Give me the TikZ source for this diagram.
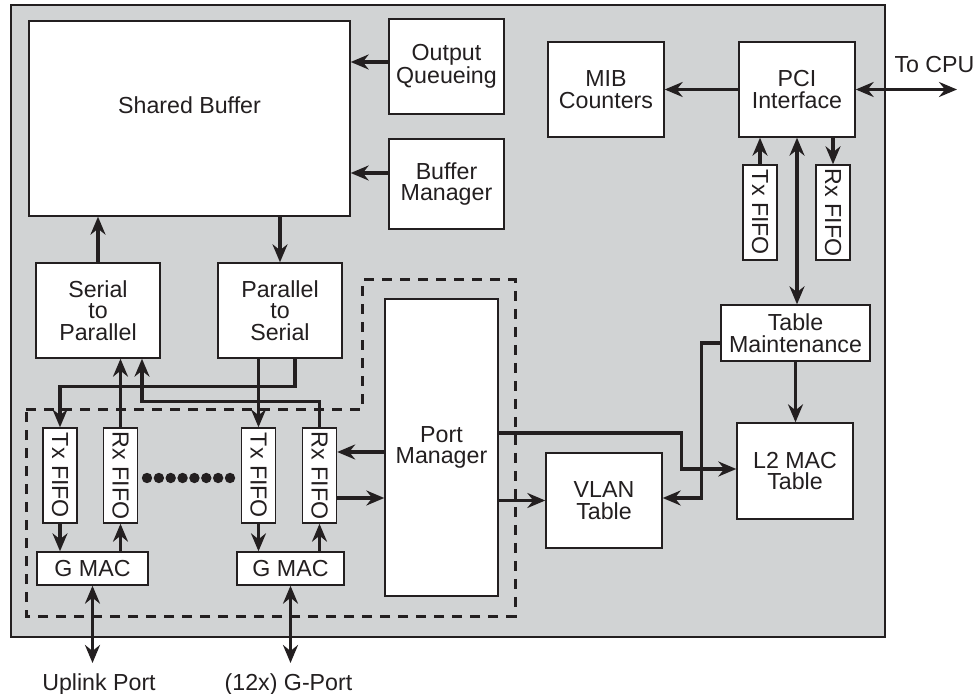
\documentclass[tikz,border=0pt]{standalone}
\usepackage{fontspec}
\setmainfont{Liberation Sans}
\usetikzlibrary{calc}
\usetikzlibrary{arrows.meta}
\definecolor{panel}{RGB}{209,211,212}
\definecolor{ink}{RGB}{35,31,32}

\begin{document}
\begin{tikzpicture}[
  x=0.5pt,
  y=-0.5pt,
  line join=miter,
  >={Stealth[length=9pt,width=7.5pt,inset=3pt]},
  blk/.style={draw=ink,fill=white,text=ink,line width=0.7pt,inner sep=0pt,
    align=center,font=\fontsize{11.6}{10.8}\selectfont},
  fifo/.style={blk,minimum width=17pt,minimum height=47.5pt},
  wire/.style={draw=ink,line width=1.7pt},
  lbl/.style={text=ink,inner sep=0pt,font=\fontsize{11.6}{10.8}\selectfont}
]
\useasboundingbox (0,0) rectangle (974,694);

% Chip outline and port group
\draw[draw=ink,fill=panel,line width=1pt] (11,5) rectangle (885,637);
\draw[ink,line width=1.5pt,dash pattern=on 5pt off 4pt]
  (26,410) -- (362,410) -- (362,280) -- (515,280) -- (515,616) -- (26,616) -- cycle;

% Buffer blocks
\node[blk,minimum width=160.5pt,minimum height=97.5pt] (sb) at (189.5,118.5) {};
\node[lbl] (sbtext) at (189.5,105) {Shared Buffer};
\node[blk,minimum width=57.5pt,minimum height=47.5pt] (oq) at (446.5,66.5) {Output\\Queueing};
\node[blk,minimum width=57.5pt,minimum height=45pt] (bm) at (446.5,184) {Buffer\\Manager};
\node[blk,minimum width=62pt,minimum height=47.5pt] (s2p) at (98,310.5) {Serial\\to\\Parallel};
\node[blk,minimum width=62pt,minimum height=47.5pt] (p2s) at (280,310.5) {Parallel\\to\\Serial};

% CPU side
\node[blk,minimum width=58pt,minimum height=47.5pt] (mib) at (606,89.5) {MIB\\Counters};
\node[blk,minimum width=58pt,minimum height=47.5pt] (pci) at (797,89.5) {PCI\\Interface};
\node[fifo] (ptx) at (760,212.5) {\rotatebox{-90}{Tx FIFO}};
\node[fifo] (prx) at (833,212.5) {\rotatebox{-90}{Rx FIFO}};
\node[blk,minimum width=74.5pt,minimum height=28pt] (tm) at (795.5,333) {Table\\Maintenance};
\node[blk,minimum width=58pt,minimum height=48pt] (l2) at (795,471) {L2 MAC\\Table};
\node[blk,minimum width=58pt,minimum height=47.5pt] (vlan) at (604,500.5) {VLAN\\Table};
\node[lbl] (cpu) at (934.5,64.5) {To CPU};
\coordinate (cpuend) at (957,89.5);

% Ports
\node[blk,minimum width=56.5pt,minimum height=148.5pt] (pm) at (441.5,447.5) {Port\\Manager};
\node[fifo] (tx1) at (60,475.5) {\rotatebox{-90}{Tx FIFO}};
\node[fifo] (rx1) at (120.5,475.5) {\rotatebox{-90}{Rx FIFO}};
\node[fifo] (tx2) at (258.5,475.5) {\rotatebox{-90}{Tx FIFO}};
\node[fifo] (rx2) at (319.5,475.5) {\rotatebox{-90}{Rx FIFO}};
\node[blk,minimum width=55.5pt,minimum height=16.5pt] (gm1) at (92.5,568.5) {G MAC};
\node[blk,minimum width=53.5pt,minimum height=16.5pt] (gm2) at (290.5,568.5) {G MAC};
\node[lbl] (uplink) at (99,684) {Uplink Port};
\node[lbl] (gport) at (288.5,684) {(12x) G-Port};
\coordinate (upend) at (92.5,663);
\coordinate (gpend) at (290.5,663);
\foreach \i in {0,...,7}
  \fill[ink] (147+\i*11.86,478) circle (2.6pt);

% Buffer paths
\draw[wire,->] ([yshift=2.25pt]oq.west) -- ([yshift=2.25pt]oq.west -| sb.east);
\draw[wire,->] ([yshift=5.5pt]bm.west) -- ([yshift=5.5pt]bm.west -| sb.east);
\draw[wire,->] (s2p.north) -- (s2p.north |- sb.south);
\draw[wire,->] (sb.south -| p2s.north) -- (p2s.north);

% Serial lines to the FIFOs
\draw[wire,->] (tx2.north |- p2s.south) -- (tx2.north);
\draw[wire,->] ([xshift=7.5pt]p2s.south) -- ++(0,28) -| (tx1.north);
\draw[wire,->] (rx1.north) -- (rx1.north |- s2p.south);
\draw[wire,->] (rx2.north) -- ++(0,-26) -| ([xshift=22pt]s2p.south);

% FIFOs and MACs
\draw[wire,->] (tx1.south) -- (tx1.south |- gm1.north);
\draw[wire,->] (gm1.north -| rx1.south) -- (rx1.south);
\draw[wire,->] (tx2.south) -- (tx2.south |- gm2.north);
\draw[wire,->] (gm2.north -| rx2.south) -- (rx2.south);
\draw[wire,<->] (gm1.south) -- (upend);
\draw[wire,<->] (gm2.south) -- (gpend);

% Port manager
\draw[wire,->] ([yshift=11.75pt]rx2.east -| pm.west) -- ([yshift=11.75pt]rx2.east);
\draw[wire,->] ([yshift=-11.25pt]rx2.east) -- ([yshift=-11.25pt]rx2.east -| pm.west);
\draw[wire,->] (vlan.west -| pm.east) -- (vlan.west);
\draw[wire,->] ([yshift=7.25pt]pm.east) -| ([xshift=-27.5pt,yshift=1pt]l2.west) -- ([yshift=1pt]l2.west);

% Tables and PCI
\draw[wire,->] ([yshift=-5pt]tm.west) -- ++(-19,0) |- ([yshift=1.25pt]vlan.east);
\draw[wire,->] (tm.south) -- (tm.south |- l2.north);
\draw[wire,<->] (pci.south) -- (pci.south |- tm.north);
\draw[wire,->] (ptx.north) -- (ptx.north |- pci.south);
\draw[wire,->] (prx.north |- pci.south) -- (prx.north);
\draw[wire,->] (pci.west) -- (pci.west -| mib.east);
\draw[wire,<->] (pci.east) -- (cpuend);

\end{tikzpicture}
\end{document}
